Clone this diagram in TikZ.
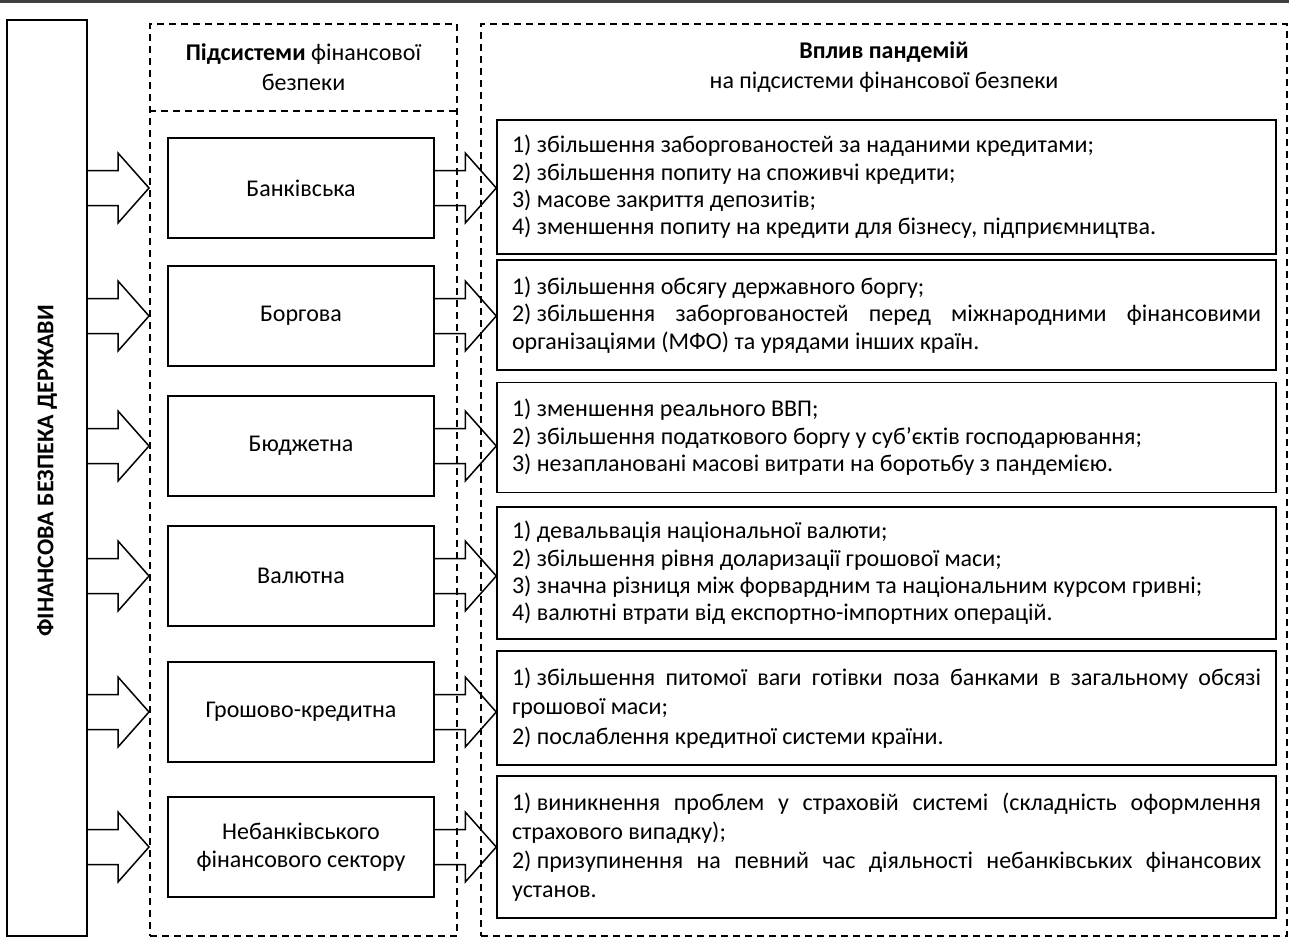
\documentclass[tikz,border=0pt]{standalone}
\usepackage{fontspec}
\setmainfont{Carlito}
\usetikzlibrary{calc}

\begin{document}
\begin{tikzpicture}[x=0.5pt, y=-0.5pt, font=\fontsize{12}{13.7}\selectfont]
\tikzset{statebox/.style={draw, line width=1.2pt, minimum width=40pt, minimum height=458pt, inner sep=0pt},
  panel/.style={draw, line width=1pt, dash pattern=on 3.5pt off 2.5pt, inner sep=0pt},
  subbox/.style={draw, line width=0.75pt, minimum width=133pt, minimum height=50pt, align=center},
  impbox/.style={draw, line width=0.75pt, text width=374.5pt, inner xsep=7.5pt, align=justify},
  fatarrow/.style={draw, line width=0.75pt, to path={let \p1=(\tikztostart), \p2=(\tikztotarget) in
    (\x1,\y1+8.75pt) -- (\x2-15.5pt,\y1+8.75pt) -- (\x2-15.5pt,\y1+17.5pt) -- (\x2,\y1)
    -- (\x2-15.5pt,\y1-17.5pt) -- (\x2-15.5pt,\y1-8.75pt) -- (\x1,\y1-8.75pt)}}}
\clip (0,0) rectangle (1289,937);
\draw[line width=1.5pt, black!75] (0,1.5) -- (1289,1.5);
% state and the two panels
\node[statebox] (state) at (47,478) {};
\node[rotate=90, font=\bfseries\fontsize{12}{14}\selectfont] (statetext) at (47,471) {ФІНАНСОВА БЕЗПЕКА ДЕРЖАВИ};
\node[panel, minimum width=153.5pt, minimum height=456pt] (subpanel) at (303.5,480) {};
\node[panel, minimum width=403pt, minimum height=456pt] (imppanel) at (884,480) {};
\draw[panel] (subpanel.west |- 0,111) -- (subpanel.east |- 0,111);
\node[align=center, font=\fontsize{12}{15}\selectfont] (subhead) at (303.5,67) {\textbf{Підсистеми} фінансової\\безпеки};
\node[align=center, font=\fontsize{12}{15}\selectfont] (imphead) at (884,67) {\textbf{Вплив пандемій}\\на підсистеми фінансової безпеки};
% subsystems
\node[subbox] (sub1) at (301,188) {Банківська};
\node[subbox] (sub2) at (301,316) {Боргова};
\node[subbox] (sub3) at (301,446) {Бюджетна};
\node[subbox] (sub4) at (301,576) {Валютна};
\node[subbox] (sub5) at (301,712) {Грошово-кредитна};
\node[subbox] (sub6) at (301,847) {Небанківського\\фінансового сектору};
% impacts
\node[impbox, minimum height=67pt] (imp1) at (886.5,187) {1) збільшення заборгованостей за наданими кредитами;\\
  2) збільшення попиту на споживчі кредити;\\
  3) масове закриття депозитів;\\
  4) зменшення попиту на кредити для бізнесу, підприємництва.};
\node[impbox, minimum height=55pt] (imp2) at (886.5,315) {1) збільшення обсягу державного боргу;\\
  \mbox{2) збільшення} заборгованостей перед міжнародними фінансовими\linebreak організаціями (МФО) та урядами інших країн.};
\node[impbox, minimum height=55pt] (imp3) at (886.5,437.5) {1) зменшення реального ВВП;\\
  2) збільшення податкового боргу у суб’єктів господарювання;\\
  3) незаплановані масові витрати на боротьбу з пандемією.};
\node[impbox, minimum height=66pt] (imp4) at (886.5,573) {1) девальвація національної валюти;\\
  2) збільшення рівня доларизації грошової маси;\\
  3) значна різниця між форвардним та національним курсом гривні;\\
  4) валютні втрати від експортно-імпортних операцій.};
\node[impbox, minimum height=57pt, font=\fontsize{12}{14.6}\selectfont] (imp5) at (886.5,708) {\mbox{1) збільшення} питомої ваги готівки поза банками в загальному обсязі\linebreak грошової маси;\\
  2) послаблення кредитної системи країни.};
\node[impbox, minimum height=71pt, font=\fontsize{12}{14.5}\selectfont] (imp6) at (886.5,847) {\mbox{1) виникнення} проблем у страховій системі (складність оформлення\linebreak страхового випадку);\\
  \mbox{2) призупинення} на певний час діяльності небанківських фінансових\linebreak установ.};
% arrows
\draw[fatarrow] (state.east |- sub1.west) to (subpanel.west |- sub1.west);
\draw[fatarrow] (state.east |- sub2.west) to (subpanel.west |- sub2.west);
\draw[fatarrow] (state.east |- sub3.west) to (subpanel.west |- sub3.west);
\draw[fatarrow] (state.east |- sub4.west) to (subpanel.west |- sub4.west);
\draw[fatarrow] (state.east |- sub5.west) to (subpanel.west |- sub5.west);
\draw[fatarrow] (state.east |- sub6.west) to (subpanel.west |- sub6.west);
\draw[fatarrow] (sub1.east) to (imp1.west |- sub1.east);
\draw[fatarrow] (sub2.east) to (imp2.west |- sub2.east);
\draw[fatarrow] (sub3.east) to (imp3.west |- sub3.east);
\draw[fatarrow] (sub4.east) to (imp4.west |- sub4.east);
\draw[fatarrow] (sub5.east) to (imp5.west |- sub5.east);
\draw[fatarrow] (sub6.east) to (imp6.west |- sub6.east);
\end{tikzpicture}
\end{document}
